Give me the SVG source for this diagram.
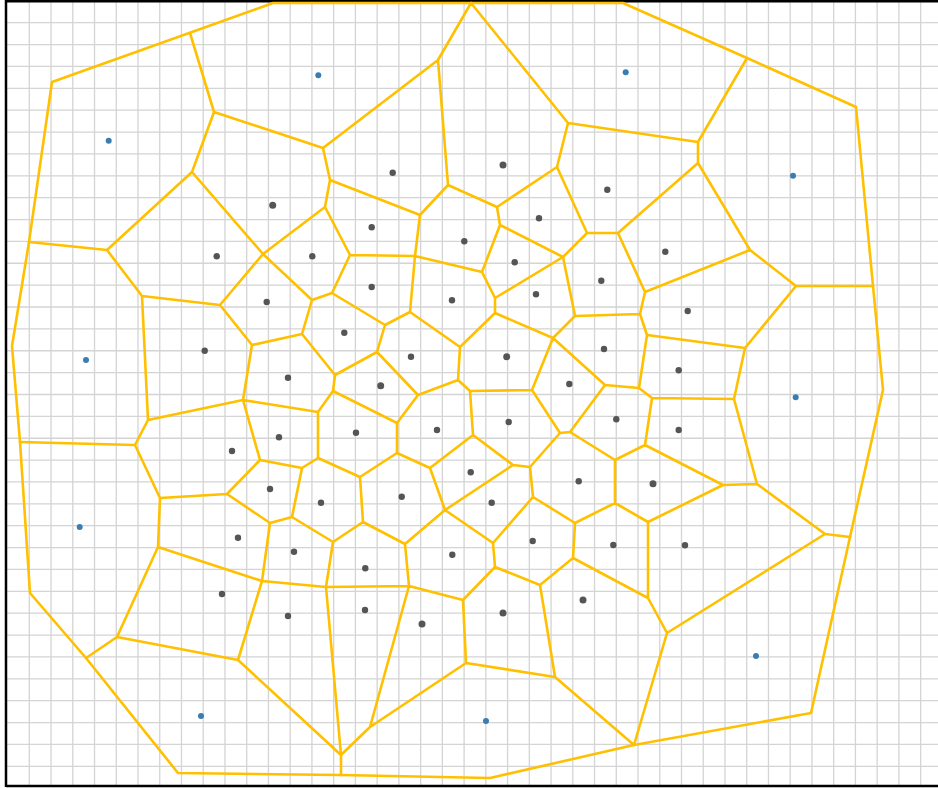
<svg xmlns="http://www.w3.org/2000/svg" width="938" height="788" viewBox="0 0 938 788">
<style>
.grid{stroke:#d4d4d4;stroke-width:1.3;fill:none}
.frame{stroke:#000;stroke-width:2.5;fill:none}
.edge{stroke:#FFC000;stroke-width:2.6;fill:none;stroke-linejoin:round;stroke-linecap:round}
.in{fill:#555}
.out{fill:#3a7db3}
</style>
<rect width="938" height="788" fill="#fff"/>
<g id="grid">
<path class="grid" d="M29.3 0V786M51.04 0V786M72.78 0V786M94.52 0V786M116.26 0V786M138 0V786M159.74 0V786M181.48 0V786M203.22 0V786M224.96 0V786M246.7 0V786M268.44 0V786M290.18 0V786M311.92 0V786M333.66 0V786M355.4 0V786M377.14 0V786M398.88 0V786M420.62 0V786M442.36 0V786M464.1 0V786M485.84 0V786M507.58 0V786M529.32 0V786M551.06 0V786M572.8 0V786M594.54 0V786M616.28 0V786M638.02 0V786M659.76 0V786M681.5 0V786M703.24 0V786M724.98 0V786M746.72 0V786M768.46 0V786M790.2 0V786M811.94 0V786M833.68 0V786M855.42 0V786M877.16 0V786M898.9 0V786M920.64 0V786"/>
<path class="grid" d="M6 22.7H938M6 44.57H938M6 66.44H938M6 88.31H938M6 110.18H938M6 132.05H938M6 153.92H938M6 175.79H938M6 197.66H938M6 219.53H938M6 241.4H938M6 263.27H938M6 285.14H938M6 307.01H938M6 328.88H938M6 350.75H938M6 372.62H938M6 394.49H938M6 416.36H938M6 438.23H938M6 460.1H938M6 481.97H938M6 503.84H938M6 525.71H938M6 547.58H938M6 569.45H938M6 591.32H938M6 613.19H938M6 635.06H938M6 656.93H938M6 678.8H938M6 700.67H938M6 722.54H938M6 744.41H938M6 766.28H938"/>
</g>
<g id="frame">
<path class="frame" d="M6 0V787M6 1.2H938M6 786H938"/>
</g>
<g id="connectors">
<path id="hull" class="edge" d="M52 82L273 3L623 3L747 58L856 107L873 286L883 390L850 537L811 713L634 745L490 778L341 775L178 773L86 658L30 593L20 442L12 346L29 242Z"/>
<path id="cells" class="edge" d="M190 33L214 112L323 148L330 180L325 207L263 254L192 172L214 112
M107 250L192 172
M29 242L107 250L142 296L220 305L263 254
M142 296L148 420
M220 305L252 345L302 334L312 300L263 254
M312 300L332 293L350 255L325 207
M323 148L438 60L471 3
M438 60L448 185L420 215L330 180
M420 215L415 256L350 255
M332 293L385 325L410 312L415 256
M385 325L377 352L335 375L302 334
M415 256L482 272
M410 312L460 347L495 313
M460 347L458 380L470 391
M458 380L418 395L377 352
M335 375L333 391L318 412L243 400L252 345
M333 391L397 423L418 395
M243 400L148 420L135 445L20 442
M243 400L260 460L227 494L160 498L135 445
M160 498L158 547L262 581L270 523L227 494
M260 460L302 468L318 458L318 412
M318 458L360 477L397 453L397 423
M302 468L292 517L270 523
M292 517L333 542L363 522L360 477
M363 522L405 544L445 510L430 468L397 453
M430 468L473 435L470 391L532 390
M473 435L513 465L445 510
M513 465L530 467L560 433L570 432
M530 467L533 497L493 543L445 510
M158 547L117 637L86 658
M117 637L238 660L262 581L326 587L333 542
M238 660L341 755L341 775
M326 587L341 755
M326 587L409 586L405 544
M409 586L370 727L341 755
M409 586L463 600L495 567L493 543
M463 600L466 663L370 727
M466 663L555 677L540 585L495 567
M555 677L634 745L667 633L825 534
M540 585L573 558L575 523L533 497
M573 558L648 598L667 633
M648 598L648 522L615 503L575 523
M648 522L723 485
M615 503L615 460L570 432L605 385L639 388L652 398
M615 460L645 445L652 398L734 399
M645 445L723 485L757 484L734 399L745 348L647 335L639 388
M757 484L825 534L850 537
M745 348L796 286L873 286
M796 286L750 250L698 163L698 142L747 58
M750 250L645 292L618 233L698 163
M645 292L640 314L647 335
M640 314L575 316L563 257L495 298L495 313L553 338L575 316
M553 338L532 390L560 433
M553 338L605 385
M563 257L500 225L482 272L495 298
M563 257L587 233L618 233
M587 233L557 167L568 123L698 142
M568 123L471 3
M557 167L497 207L448 185
M497 207L500 225"/>
</g>
<g id="outer-seeds">
<circle class="out" cx="318.3" cy="75.3" r="3"/>
<circle class="out" cx="625.7" cy="72.3" r="3"/>
<circle class="out" cx="108.7" cy="140.7" r="3"/>
<circle class="out" cx="793" cy="175.7" r="3"/>
<circle class="out" cx="86" cy="360" r="3"/>
<circle class="out" cx="795.7" cy="397.3" r="3"/>
<circle class="out" cx="79.7" cy="527" r="3"/>
<circle class="out" cx="756" cy="656" r="3"/>
<circle class="out" cx="201" cy="716" r="3"/>
<circle class="out" cx="486" cy="721" r="3"/>
</g>
<g id="inner-seeds">
<circle class="in" cx="392.7" cy="172.7" r="3.2"/>
<circle class="in" cx="503" cy="165" r="3.5"/>
<circle class="in" cx="607.3" cy="189.7" r="3.2"/>
<circle class="in" cx="272.7" cy="205.3" r="3.5"/>
<circle class="in" cx="539" cy="218.3" r="3.2"/>
<circle class="in" cx="371.7" cy="227.3" r="3.2"/>
<circle class="in" cx="464.3" cy="241.3" r="3.2"/>
<circle class="in" cx="216.7" cy="256.3" r="3.2"/>
<circle class="in" cx="312.3" cy="256.3" r="3.2"/>
<circle class="in" cx="514.7" cy="262.3" r="3.2"/>
<circle class="in" cx="665.3" cy="251.7" r="3.2"/>
<circle class="in" cx="601.3" cy="280.7" r="3.2"/>
<circle class="in" cx="371.7" cy="287" r="3.2"/>
<circle class="in" cx="266.7" cy="302" r="3.2"/>
<circle class="in" cx="452" cy="300.3" r="3.2"/>
<circle class="in" cx="536" cy="294.3" r="3.2"/>
<circle class="in" cx="687.7" cy="311" r="3.2"/>
<circle class="in" cx="344.3" cy="332.7" r="3.2"/>
<circle class="in" cx="411" cy="356.7" r="3.2"/>
<circle class="in" cx="506.7" cy="356.7" r="3.5"/>
<circle class="in" cx="604" cy="349" r="3.2"/>
<circle class="in" cx="204.7" cy="350.7" r="3.2"/>
<circle class="in" cx="288" cy="377.7" r="3.2"/>
<circle class="in" cx="380.7" cy="385.7" r="3.5"/>
<circle class="in" cx="569.3" cy="384" r="3.2"/>
<circle class="in" cx="678.7" cy="370.3" r="3.2"/>
<circle class="in" cx="356" cy="432.7" r="3.2"/>
<circle class="in" cx="437" cy="430" r="3.2"/>
<circle class="in" cx="508.7" cy="422" r="3.2"/>
<circle class="in" cx="616.3" cy="419.3" r="3.2"/>
<circle class="in" cx="678.7" cy="430" r="3.2"/>
<circle class="in" cx="279" cy="437.3" r="3.2"/>
<circle class="in" cx="232" cy="451" r="3.2"/>
<circle class="in" cx="470.7" cy="472.3" r="3.2"/>
<circle class="in" cx="578.7" cy="481.3" r="3.2"/>
<circle class="in" cx="653" cy="483.7" r="3.5"/>
<circle class="in" cx="401.7" cy="496.7" r="3.2"/>
<circle class="in" cx="491.7" cy="502.7" r="3.2"/>
<circle class="in" cx="270" cy="489" r="3.2"/>
<circle class="in" cx="321" cy="502.7" r="3.2"/>
<circle class="in" cx="238" cy="537.7" r="3.2"/>
<circle class="in" cx="294" cy="551.7" r="3.2"/>
<circle class="in" cx="365.3" cy="568.3" r="3.2"/>
<circle class="in" cx="452.3" cy="554.7" r="3.2"/>
<circle class="in" cx="532.7" cy="541" r="3.2"/>
<circle class="in" cx="613.3" cy="545" r="3.2"/>
<circle class="in" cx="685" cy="545.3" r="3.2"/>
<circle class="in" cx="222" cy="594" r="3.2"/>
<circle class="in" cx="583" cy="600" r="3.5"/>
<circle class="in" cx="288" cy="616" r="3.2"/>
<circle class="in" cx="365" cy="610" r="3.2"/>
<circle class="in" cx="422" cy="624" r="3.5"/>
<circle class="in" cx="503" cy="613" r="3.5"/>
</g>
</svg>
